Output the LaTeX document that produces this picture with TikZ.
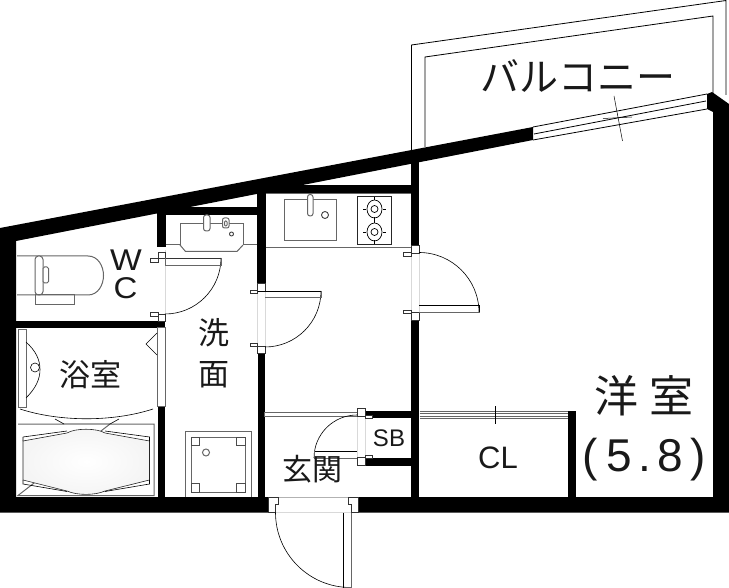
\documentclass[tikz,border=0pt]{standalone}
\usepackage{fontspec}
\setmainfont{Liberation Sans}
\newfontfamily\cjk{Noto Sans CJK JP}
\definecolor{gl}{gray}{0.4}
\definecolor{fl}{gray}{0.85}
\tikzset{
  wall/.style={fill=black,draw=none},
  thin line/.style={draw=black,line width=0.8pt},
  fix/.style={draw=gl,line width=1pt},
  fixb/.style={draw=black!75,line width=0.9pt},
  swing/.style={draw=black,line width=0.6pt},
  jamb/.style={draw=black!80,fill=white,line width=0.7pt},
  faint/.style={draw=fl,line width=0.7pt},
  kanji/.style={font=\cjk\fontsize{#1}{#1}\selectfont,inner sep=0pt,text=black!90},
  latin/.style={font=\fontsize{#1}{#1}\selectfont,inner sep=0pt,text=black!90},
}
\begin{document}
\begin{tikzpicture}[x=1pt,y=-1pt]
\useasboundingbox (0,0) rectangle (729,588);
% balcony
\draw[thin line] (411.5,150) -- (411.5,45) -- (726,0.5) -- (726,95);
\draw[thin line] (425,147) -- (425,57) -- (713,16) -- (713,95);
% outer walls
\fill[wall] (0,228) -- (533,127) -- (533,140) -- (16,241) -- (16,497) -- (268,497) -- (268,512.5) -- (0,512.5) -- cycle;
\fill[wall] (358,497) -- (713,497) -- (713,112) -- (707,109) -- (707,94) -- (712,92) -- (729,104) -- (729,512.5) -- (358,512.5) -- cycle;
% inner walls
\fill[wall] (16,321) rectangle (165,328);
\fill[wall] (157,205) rectangle (165.5,247);
\fill[wall] (165,207) rectangle (257,215);
\fill[wall] (257,188) rectangle (265.5,283);
\fill[wall] (257.5,353) rectangle (265,497);
\fill[wall] (265,185) rectangle (412,193);
\fill[wall] (411,155) rectangle (419,245);
\fill[wall] (411,320) rectangle (419,497);
\fill[wall] (568,411) rectangle (576,497);
\fill[wall] (157.5,406) rectangle (165,497);
\fill[wall] (365,411) rectangle (411,418);
\fill[wall] (365,458) rectangle (411,466);
% window
\draw[thin line] (533,127) -- (707,94);
\draw[thin line] (533,140) -- (707,109);
\draw[thin line] (534,134) -- (706,101);
\draw[draw=black,line width=0.5pt] (614,96) -- (622.5,141);
\draw[draw=black,line width=0.5pt] (603,118.5) -- (632,117);
% closet front
\draw[fix] (419.5,411.5) -- (568,411.5) (568,418.5) -- (419.5,418.5);
\draw[draw=gl,line width=0.8pt] (419.5,413.8) -- (568,413.8) (419.5,416.2) -- (568,416.2);
\draw[draw=black,line width=0.5pt] (495,406) -- (495,424);
% entry top sliding
\draw[fix,fill=white] (264.5,412) rectangle (357,416.5);
% washroom fixture
\draw[fix] (165.5,245) -- (180,245) -- (180,224) -- (243,224) -- (243,245) -- (257,245);
\draw[fix] (180,245) -- (185.5,251.5) -- (237,251.5) -- (243,245);
\draw[fix,fill=white,rounded corners=2.5pt] (203.5,215) rectangle (210,231);
\draw[fix,fill=white,rounded corners=2pt] (222.5,218) rectangle (229,228);
\draw[fix,fill=white,rounded corners=1pt] (224.5,221) rectangle (227,226);
\draw[fixb] (231.5,234) circle (2);
% toilet
\draw[fix] (17,256) -- (88,256) .. controls (98,256) and (103.5,266) .. (103.5,275.5) .. controls (103.5,285) and (98,295) .. (88,295) -- (17,295);
\draw[fix,fill=white,rounded corners=3.5pt] (35,256) rectangle (43,295);
\draw[fix,fill=white,rounded corners=1.5pt] (43,267) rectangle (48.5,283);
\draw[fix] (35,295) rectangle (74.5,304.5);
% WC door
\draw[faint] (165.8,250) -- (165.8,315);
\draw[jamb] (158,252) rectangle (165,258);
\draw[jamb] (158,314.5) rectangle (165,321);
\draw[jamb] (150,258) rectangle (158,262);
\draw[jamb] (150,312) rectangle (158,316);
\draw[swing] (221,258) arc[start angle=0,end angle=90,radius=56];
\draw[jamb] (165.5,258) -- (221,258);
\draw[fix] (165.5,266) -- (221,266) -- (221,258);
\draw[fix] (165.5,258) -- (165.5,266);
% kitchen door
\draw[faint] (257.5,283) -- (257.5,346) (265.5,283) -- (265.5,346);
\draw[jamb] (257.5,283) rectangle (265,291);
\draw[jamb] (257.5,346) rectangle (265,353);
\draw[jamb] (250,290) rectangle (257.5,293.5);
\draw[jamb] (250,343) rectangle (257.5,346.5);
\draw[swing] (321,291) arc[start angle=0,end angle=90,radius=56];
\draw[fix] (265,298) -- (321,298) -- (321,291);
\draw[draw=black,line width=0.8pt] (257.5,291) -- (321,291);
% kitchen
\draw[fix] (265.5,193.5) -- (411,193.5);
\draw[fix] (265.5,248) -- (411,248);
\draw[fix] (284,200) rectangle (336.5,241);
\draw[fix,fill=white,rounded corners=2.5pt] (307.5,194.5) rectangle (313,216);
\draw[fixb] (325,215) circle (3.5);
\draw[draw=black!85,line width=0.9pt] (357.5,196) rectangle (391.5,244);
\foreach \cy in {209,232}{
  \draw[draw=black,line width=0.7pt] (374.5,\cy) ellipse (7.5 and 9);
  \draw[draw=black,line width=0.7pt] (374.5,\cy) circle (3.5);
  \draw[draw=black,line width=0.6pt] (374.5,\cy-12) -- (374.5,\cy-8.5) (374.5,\cy+8.5) -- (374.5,\cy+12) (366,\cy) -- (363,\cy) (383,\cy) -- (386,\cy);
}
% room door
\draw[faint] (411,245) -- (411,312) (419.5,245) -- (419.5,312);
\draw[jamb] (411.5,245) rectangle (419,253);
\draw[jamb] (411.5,312.5) rectangle (419,320);
\draw[jamb] (403.5,252.5) rectangle (411.5,256);
\draw[jamb] (403.5,310) rectangle (411.5,313.5);
\draw[swing] (419,252.5) arc[start angle=-90,end angle=0,radius=60];
\draw[draw=black,line width=0.8pt] (419,305.5) -- (479,305.5) -- (479,312);
\draw[fix] (419,312.5) -- (479.5,312.5);
% SB door
\draw[faint] (357,416) -- (357,457);
\draw[faint] (365,416) -- (365,457);
\draw[jamb] (357,408) rectangle (365,416);
\draw[jamb] (357,457) rectangle (365,465);
\draw[jamb] (365,415) rectangle (372,418);
\draw[jamb] (365,455) rectangle (372,458);
\draw[swing] (357,415) arc[start angle=-90,end angle=-180,radius=43];
\draw[draw=black,line width=0.8pt] (314,451) -- (357,451);
\draw[fix] (314,451) -- (314,458) -- (357,458);
% entry door
\fill[white] (268,497) rectangle (358,512.5);
\draw[draw=gl!50,line width=0.8pt] (268,497) -- (358,497);
\draw[faint] (268,512.5) -- (358,512.5);
\draw[jamb] (268,497) -- (278.5,497) -- (278.5,504) -- (275.5,504) -- (275.5,512.5) -- (268,512.5) -- cycle;
\draw[jamb] (358,497) -- (348,497) -- (348,504) -- (351,504) -- (351,512.5) -- (358,512.5) -- cycle;
\draw[swing] (275.5,512.5) arc[start angle=180,end angle=90,radius=75];
\draw[draw=black,line width=0.8pt] (343.5,512.5) -- (343.5,587.5);
\draw[fix] (351,512.5) -- (351,587.5) -- (343.5,587.5);
% bath
\draw[fix,fill=white] (18,330) rectangle (26,407.5);
\draw[swing] (26,342) .. controls (36,351) and (40,360) .. (40,369.5) .. controls (40,379) and (36,388) .. (26,398);
\draw[swing] (35,367.5) circle (4.5);
\draw[fix,fill=white] (157.8,328) rectangle (165,406);
\draw[swing] (157,333) -- (146,344) -- (157,355);
\draw[swing] (20,409) .. controls (60,422) and (113,422) .. (153,409);
\draw[fix] (18,424) -- (64,424) (110,424) -- (154,424) -- (154,495.5) -- (18,495.5) -- cycle;
\draw[swing] (55,419) -- (64,424) -- (110,424) -- (119,419);
\shade[inner color=white,outer color=black!4] (23,441) -- (67,433) .. controls (75,428) and (97,428) .. (105,433) -- (149.5,441) -- (149.5,480) -- (105,492) .. controls (95,495) and (77,495) .. (67,492) -- (23,480) -- cycle;
\draw[swing,draw=black!85] (23,441) -- (67,433) .. controls (75,428) and (97,428) .. (105,433) -- (149.5,441) -- (149.5,480) -- (105,491) .. controls (95,495.5) and (77,495.5) .. (67,491) -- (23,480) -- cycle;
\draw[swing] (23,437) -- (67,431) (105,431) -- (149.5,437) -- (149.5,441) (23,437) -- (23,441);
\draw[swing] (23,480) -- (23,484) -- (67,491.5) (149.5,480) -- (149.5,484) -- (105,491.5);
% washer pan
\draw[fix] (185,497) -- (185,431) -- (251,431) -- (251,497);
\draw[fix] (191,437) rectangle (245,492);
\foreach \px/\py in {191/437,236.5/437,191/483.5,236.5/483.5}{
  \draw[draw=black!70,line width=0.7pt] (\px,\py) rectangle ++(8.5,8.5);
}
\draw[fix] (206,452.5) circle (3.5);
% labels
\node[kanji=39] (balcony) at (578,76) {バルコニー};
\node[kanji=31] (sen) at (213.5,332.5) {洗};
\node[kanji=31] (men) at (213.5,374.5) {面};
\node[kanji=31] (yoku) at (90,375) {浴室};
\node[kanji=44] (yo) at (616.5,395.5) {洋};
\node[kanji=44] (shitsu) at (671.5,395.5) {室};
\node[kanji=30] (genkan) at (312.5,469.5) {玄関};
\node[latin=30,xscale=1.12] (w) at (126,260.5) {W};
\node[latin=30,xscale=1.1] (c) at (125.5,288) {C};
\node[latin=24] (sb) at (389,438.5) {SB};
\node[latin=31] (cl) at (498,458) {CL};
\node[latin=46,anchor=base] (p1) at (590,471.5) {(};
\node[latin=46,anchor=base] (n1) at (619,471.5) {5};
\node[latin=46,anchor=base] (n2) at (645,471.5) {.};
\node[latin=46,anchor=base] (n3) at (670.5,471.5) {8};
\node[latin=46,anchor=base] (p2) at (698.5,471.5) {)};
\end{tikzpicture}
\end{document}
